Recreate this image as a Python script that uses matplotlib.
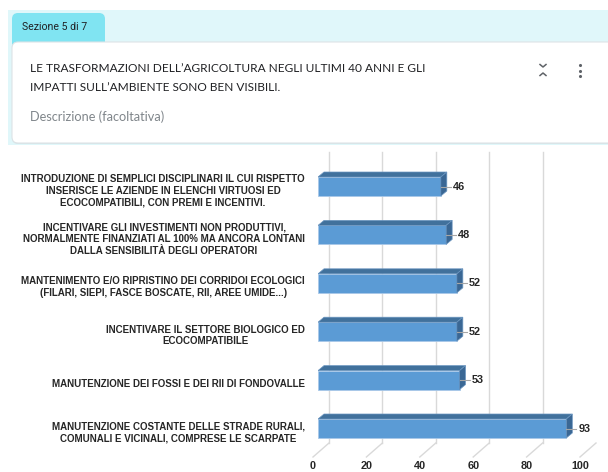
import matplotlib
matplotlib.use("Agg")
import matplotlib.pyplot as plt
from matplotlib import font_manager
from matplotlib.patches import FancyBboxPatch, Polygon, Rectangle

# dati del grafico
categorie = [
    "INTRODUZIONE DI SEMPLICI DISCIPLINARI IL CUI RISPETTO\nINSERISCE LE AZIENDE IN ELENCHI VIRTUOSI ED\nECOCOMPATIBILI, CON PREMI E INCENTIVI.",
    "INCENTIVARE GLI INVESTIMENTI NON PRODUTTIVI,\nNORMALMENTE FINANZIATI AL 100% MA ANCORA LONTANI\nDALLA SENSIBILITÀ DEGLI OPERATORI",
    "MANTENIMENTO E/O RIPRISTINO DEI CORRIDOI ECOLOGICI\n(FILARI, SIEPI, FASCE BOSCATE, RII, AREE UMIDE...)",
    "INCENTIVARE IL SETTORE BIOLOGICO ED\nECOCOMPATIBILE",
    "MANUTENZIONE DEI FOSSI E DEI RII DI FONDOVALLE",
    "MANUTENZIONE COSTANTE DELLE STRADE RURALI,\nCOMUNALI E VICINALI, COMPRESE LE SCARPATE",
]
valori = [46, 48, 52, 52, 53, 93]
tick_valori = [0, 20, 40, 60, 80, 100]

sezione = "Sezione 5 di 7"
titolo = ["LE TRASFORMAZIONI DELL\u2019AGRICOLTURA NEGLI ULTIMI 40 ANNI E GLI",
          "IMPATTI SULL\u2019AMBIENTE SONO BEN VISIBILI."]
descrizione = "Descrizione (facoltativa)"

installed = {f.name for f in font_manager.fontManager.ttflist}
chart_font = "Liberation Sans Narrow" if "Liberation Sans Narrow" in installed else "Liberation Sans"

W, H = 608, 472
fig = plt.figure(figsize=(W / 100, H / 100), dpi=100)

# --- intestazione (modulo) ---
bg = fig.add_axes([0, 0, 1, 1])
bg.set_xlim(0, W)
bg.set_ylim(H, 0)
bg.axis("off")

bg.add_patch(Rectangle((8, 10), W, 135, color="#e0f7fa", lw=0))
bg.add_patch(FancyBboxPatch((12, 13), 93, 40, boxstyle="round,pad=0,rounding_size=6",
                            fc="#80e4f2", ec="none"))
# ombra leggera + scheda bianca
bg.add_patch(FancyBboxPatch((12, 43), W + 20, 101, boxstyle="round,pad=0,rounding_size=6",
                            fc="#d5e6ea", ec="none"))
bg.add_patch(FancyBboxPatch((12, 42), W + 20, 101, boxstyle="round,pad=0,rounding_size=6",
                            fc="white", ec="#dde3e6", lw=0.8))

bg.text(22, 27.5, sezione, fontsize=7.6, family="Roboto", va="center", color="#202124")
for i, riga in enumerate(titolo):
    bg.text(30, 68 + 19.5 * i, riga, fontsize=8.6, family="Lato", va="center", color="#202124")
bg.text(30, 117, descrizione, fontsize=9.2, family="Lato", va="center", color="#80868b")

# icone
bg.plot([540, 543, 546], [64.5, 67, 64.5], color="#5f6368", lw=1.1)
bg.plot([540, 543, 546], [75.5, 73, 75.5], color="#5f6368", lw=1.1)
bg.scatter([580, 580, 580], [65, 70.5, 76], s=5, color="#5f6368", lw=0)

# --- grafico a barre 3D ---
x_left, x_right, y_top, y_bot = 318, 585, 150, 472
ax = fig.add_axes([x_left / W, 1 - y_bot / H, (x_right - x_left) / W, (y_bot - y_top) / H])
ax.patch.set_alpha(0)
ax.axis("off")
ax.set_xlim(0, 100)
px_x = (x_right - x_left) / 100.0
px_y = 48.4
first = 186.5
ax.set_ylim((y_bot - first) / px_y, (y_top - first) / px_y)

def ux(p):
    return p / px_x

def uy(p):
    return p / px_y

pos = list(range(len(valori)))
y_back = uy(443 - first)
y_front = uy(457 - first)

for t in tick_valori:
    ax.plot([t + ux(11), t + ux(11)], [uy(152 - first), y_back], color="#d9d9d9", lw=1, zorder=1)
    ax.plot([t + ux(11), t - ux(5)], [y_back, y_front], color="#d9d9d9", lw=1, zorder=1, clip_on=False)
    ax.text(t - ux(5), uy(466 - first), str(t), ha="center", va="center", fontsize=7.8,
            fontweight="bold", family=chart_font, color="#262626")

h = uy(19)
dx, dy = ux(6), uy(5)
ax.barh(pos, valori, height=h, color="#5b9bd5", edgecolor="#a9c8e8", lw=0.6, zorder=3)
for y, v in zip(pos, valori):
    top = y - h / 2
    ax.add_patch(Polygon([(0, top), (v, top), (v + dx, top - dy), (dx, top - dy)],
                         closed=True, fc="#41719c", ec="#6a95c0", lw=0.5, zorder=3))
    ax.add_patch(Polygon([(v, top), (v + dx, top - dy), (v + dx, top + h - dy), (v, top + h)],
                         closed=True, fc="#3a6794", ec="#6a95c0", lw=0.5, zorder=3))
    ax.plot([v, v + ux(10)], [y, y], color="#a6a6a6", lw=0.8, zorder=4)
    ax.text(v + ux(12), y, str(v), ha="left", va="center", fontsize=7.8, fontweight="bold",
            family=chart_font, color="#262626")

for y, lab in zip(pos, categorie):
    ax.text(ux(-13), y + uy(4), lab, ha="right", va="center", multialignment="center",
            fontsize=7, fontweight="bold", family=chart_font, color="#262626",
            linespacing=1.2, clip_on=False)

fig.savefig("out.png", dpi=100)
